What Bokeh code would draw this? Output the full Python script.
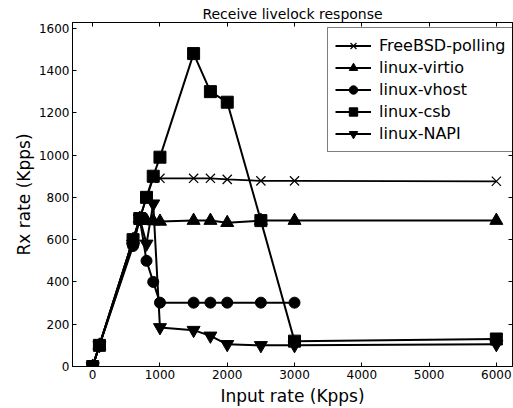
from bokeh.plotting import figure
from bokeh.models import Range1d, LinearAxis, FixedTicker, Legend, LegendItem
from bokeh.embed import file_html
from bokeh.resources import INLINE

# ---- data ----
x_all = [0, 100, 600, 700, 800, 900, 1000, 1500, 1750, 2000, 2500, 3000, 6000]
x_vhost = [0, 100, 600, 700, 800, 900, 1000, 1500, 1750, 2000, 2500, 3000]
freebsd = [0, 100, 600, 700, 800, 890, 890, 890, 890, 885, 878, 878, 876]
virtio = [0, 100, 600, 700, 690, 688, 686, 690, 690, 680, 690, 690, 690]
vhost = [0, 100, 570, 700, 500, 400, 302, 302, 302, 302, 302, 302]
csb = [0, 100, 600, 700, 800, 900, 990, 1480, 1300, 1250, 690, 120, 130]
napi = [0, 100, 580, 700, 580, 770, 185, 172, 145, 105, 100, 100, 105]

x_ticks = [0, 1000, 2000, 3000, 4000, 5000, 6000]
y_ticks = [0, 200, 400, 600, 800, 1000, 1200, 1400, 1600]

FONT = "DejaVu Sans"

p = figure(width=513, height=408, output_backend="svg", toolbar_location=None,
           x_range=Range1d(-300, 6240), y_range=Range1d(0, 1627),
           min_border_left=72, min_border_right=1, min_border_top=22, min_border_bottom=42,
           title="Receive livelock response")
p.title.align = "center"
p.title.text_font = FONT
p.title.text_font_size = "14px"
p.title.text_font_style = "normal"
p.title.text_color = "black"
p.title.standoff = 2
p.title.offset = 0

p.xgrid.visible = False
p.ygrid.visible = False
p.outline_line_color = "black"
p.outline_line_width = 1
p.background_fill_color = "white"
p.border_fill_color = "white"

def style_axis(ax, ticks, labels=True, label_standoff=6):
    ax.ticker = FixedTicker(ticks=ticks)
    ax.major_tick_in = 4
    ax.major_tick_out = 0
    ax.minor_tick_in = 0
    ax.minor_tick_out = 0
    ax.axis_line_color = "black"
    ax.major_tick_line_color = "black"
    ax.major_label_text_font = FONT
    ax.major_label_text_color = "black"
    ax.axis_label_text_font = FONT
    ax.axis_label_text_font_style = "normal"
    ax.axis_label_text_color = "black"
    if labels:
        ax.major_label_text_font_size = "12px"
        ax.major_label_standoff = 3
        ax.axis_label_text_font_size = "17px"
        ax.axis_label_standoff = label_standoff
    else:
        ax.major_label_overrides = {t: "" for t in ticks}
        ax.major_label_text_font_size = "1px"
        ax.major_label_standoff = 0

style_axis(p.xaxis[0], x_ticks, label_standoff=4)
style_axis(p.yaxis[0], y_ticks, label_standoff=2)
p.xaxis[0].axis_label = "Input rate (Kpps)"
p.yaxis[0].axis_label = "Rx rate (Kpps)"

top_ax = LinearAxis()
style_axis(top_ax, x_ticks, labels=False)
p.add_layout(top_ax, "above")
right_ax = LinearAxis()
style_axis(right_ax, y_ticks, labels=False)
p.add_layout(right_ax, "right")

LW = 2
items = []

l1 = p.line(x_all, freebsd, line_color="black", line_width=1.8)
s1 = p.scatter(x_all, freebsd, marker="x", size=13, line_color="black", line_width=1.2)
items.append(LegendItem(label="FreeBSD-polling", renderers=[l1, s1]))

l2 = p.line(x_all, virtio, line_color="black", line_width=LW)
s2 = p.scatter(x_all, virtio, marker="triangle", size=13, fill_color="black", line_color="black")
items.append(LegendItem(label="linux-virtio", renderers=[l2, s2]))

l3 = p.line(x_vhost, vhost, line_color="black", line_width=LW)
s3 = p.scatter(x_vhost, vhost, marker="circle", size=11, fill_color="black", line_color="black")
items.append(LegendItem(label="linux-vhost", renderers=[l3, s3]))

l4 = p.line(x_all, csb, line_color="black", line_width=LW)
s4 = p.scatter(x_all, csb, marker="square", size=12, fill_color="black", line_color="black")
items.append(LegendItem(label="linux-csb", renderers=[l4, s4]))

l5 = p.line(x_all, napi, line_color="black", line_width=LW)
s5 = p.scatter(x_all, napi, marker="inverted_triangle", size=13, fill_color="black", line_color="black")
items.append(LegendItem(label="linux-NAPI", renderers=[l5, s5]))

legend = Legend(items=items, location=(255, 214))
legend.label_text_font = FONT
legend.label_text_font_size = "16px"
legend.label_text_color = "black"
legend.glyph_width = 36
legend.glyph_height = 21
legend.label_height = 21
legend.spacing = 1
legend.padding = 7
legend.margin = 0
legend.label_standoff = 8
legend.border_line_color = "black"
legend.border_line_width = 1
legend.background_fill_alpha = 1
p.add_layout(legend, "center")

open("out.html", "w").write(file_html(p, INLINE))
